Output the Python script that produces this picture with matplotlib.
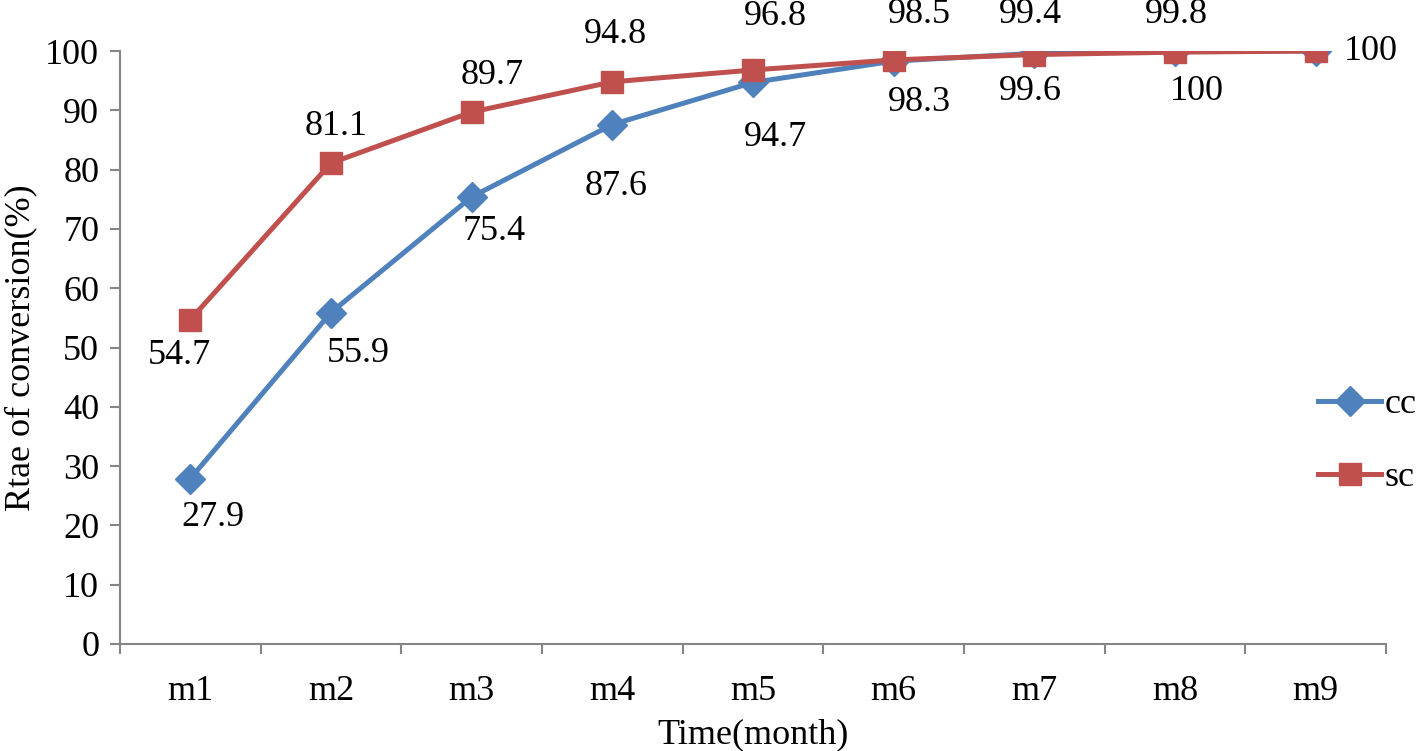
import numpy as np
import matplotlib
matplotlib.use('Agg')
import matplotlib.pyplot as plt

# data
months = ['m1', 'm2', 'm3', 'm4', 'm5', 'm6', 'm7', 'm8', 'm9']
cc = [27.9, 55.9, 75.4, 87.6, 94.7, 98.3, 99.6, 100, 100]
sc = [54.7, 81.1, 89.7, 94.8, 96.8, 98.5, 99.4, 99.8, 100]

# label offsets in pixels (dx, dy) - placed by hand in the original
# cc m9 label sits under the sc one, so it is left out
cc_off = [(23, -39), (27, -41), (23, -35), (4, -62), (22, -55), (26, -41), (-4, -38), (22, -40), None]
sc_off = [(-11, -36), (5, 37), (20, 37), (3, 47), (22, 53), (26, 45), (-4, 40), (1, 38), (55, 0)]

plt.rcParams['font.family'] = ['Liberation Serif', 'DejaVu Serif']
plt.rcParams['font.size'] = 26

blue = '#4F81BD'
red = '#C0504D'
gray = '#868686'

fig = plt.figure(figsize=(14.18, 7.51), dpi=100)
ax = fig.add_axes([120/1418, 107/751, (1386-120)/1418, (644-51)/751])

x = np.arange(len(months))
l1, = ax.plot(x, cc, color=blue, lw=3.6, marker='D', ms=15, label='cc')
l2, = ax.plot(x, sc, color=red, lw=3.6, marker='s', ms=16.5, label='sc')

for i in range(len(x)):
    if cc_off[i] is not None:
        ax.annotate(str(cc[i]), (x[i], cc[i]), xytext=cc_off[i], textcoords='offset pixels',
                    ha='center', va='center')
    ax.annotate(str(sc[i]), (x[i], sc[i]), xytext=sc_off[i], textcoords='offset pixels',
                ha='center', va='center')

ax.set_xlim(-0.5, 8.5)
ax.set_ylim(0, 100)
ax.set_yticks(np.arange(0, 101, 10))
ax.set_xticks(x)
ax.set_xticklabels(months)
ax.set_xticks(np.arange(-0.5, 9, 1), minor=True)
ax.tick_params(axis='x', which='major', length=0, pad=22)
ax.tick_params(axis='x', which='minor', length=7, width=1.5, color=gray, direction='out')
ax.tick_params(axis='y', length=7, width=1.5, color=gray, direction='out', pad=8)

for side in ['top', 'right']:
    ax.spines[side].set_visible(False)
for side in ['left', 'bottom']:
    ax.spines[side].set_color(gray)
    ax.spines[side].set_linewidth(1.5)

ax.set_ylabel('Rtae of conversion(%)', labelpad=6)
ax.set_xlabel('Time(month)', labelpad=8)

fig.legend(handles=[l1, l2], loc='center left', bbox_to_anchor=(1318/1418, (751-441)/751),
           frameon=False, handlelength=1.75, handletextpad=0.1, labelspacing=1.1,
           borderpad=0, borderaxespad=0)

fig.savefig('out.png', dpi=100)
